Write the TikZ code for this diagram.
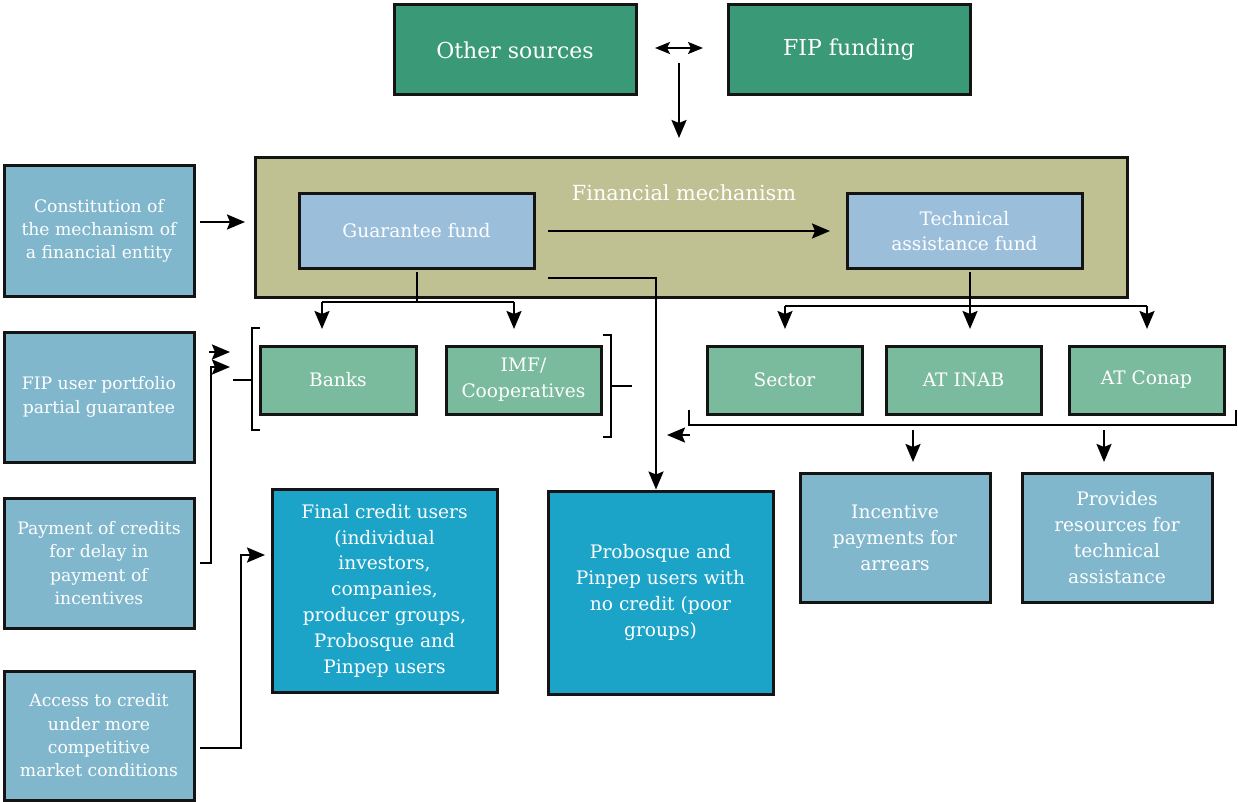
\documentclass[tikz,border=0pt]{standalone}
\usepackage{fontspec}
\setmainfont{DejaVu Serif}
\usetikzlibrary{arrows.meta}
\definecolor{srcgreen}{HTML}{3A9977}
\definecolor{midgreen}{HTML}{7BBB9D}
\definecolor{olive}{HTML}{C0C193}
\definecolor{fundblue}{HTML}{9BBEDB}
\definecolor{greyblue}{HTML}{80B7CC}
\definecolor{cyanbox}{HTML}{1CA3C8}
\definecolor{edge}{HTML}{141414}
% box with corners (x1,y1) and (x2,y2)
\newcommand\placebox[7]{%
  \node[box,#6,minimum width={(#4-#2)*1pt},minimum height={(#5-#3)*1pt}]
    (#1) at ({(#2+#4)/2},{(#3+#5)/2}) {#7};}
\begin{document}
\begin{tikzpicture}[x=1pt,y=-1pt,
  box/.style={draw=edge,line width=3pt,inner sep=0pt,text=white,align=center,
    font=\fontsize{17}{23.5}\selectfont},
  big/.style={font=\fontsize{22}{26}\selectfont},
  mid/.style={font=\fontsize{18.6}{25.8}\selectfont},
  small/.style={font=\fontsize{17.2}{23.3}\selectfont},
  conn/.style={line width=2.2pt,draw=black,-{Stealth[length=18pt,width=15pt,inset=3pt]}},
  twoway/.style={line width=2.2pt,draw=black,{Stealth[length=15pt,width=12pt,inset=3pt]}-{Stealth[length=15pt,width=12pt,inset=3pt]}},
  plain/.style={line width=2.2pt,draw=black}]
\useasboundingbox (0,0) rectangle (1238,802);

% sources
\placebox{other}{394}{5}{636}{95}{fill=srcgreen,big}{Other sources}
\placebox{fip}{728}{5}{970}{95}{fill=srcgreen,big}{FIP funding}

% financial mechanism
\placebox{fm}{255}{158}{1127}{297}{fill=olive}{}
\node[text=white,font=\fontsize{20.8}{24}\selectfont] (fmtitle) at (684,193) {Financial mechanism};
\placebox{gf}{299}{194}{534}{268}{fill=fundblue,mid}{Guarantee fund}
\placebox{taf}{847}{194}{1082}{268}{fill=fundblue,mid}{Technical\\assistance fund}

% intermediaries
\placebox{banks}{260}{346}{416}{414}{fill=midgreen,mid}{Banks}
\placebox{imf}{446}{346}{601}{414}{fill=midgreen,mid}{IMF/\\Cooperatives}
\placebox{sector}{707}{346}{862}{414}{fill=midgreen,mid}{Sector}
\placebox{inab}{886}{346}{1041}{414}{fill=midgreen,mid}{AT INAB}
\placebox{conap}{1069}{346}{1224}{414}{fill=midgreen,mid}{AT Conap}

% left column
\placebox{const}{4}{166}{194}{296}{fill=greyblue,small}{Constitution of\\the mechanism of\\a financial entity}
\placebox{portf}{4}{332}{194}{462}{fill=greyblue,small}{FIP user portfolio\\partial guarantee}
\placebox{delay}{4}{498}{194}{628}{fill=greyblue,small}{Payment of credits\\for delay in\\payment of\\incentives}
\placebox{access}{4}{671}{194}{800}{fill=greyblue,small}{Access to credit\\under more\\competitive\\market conditions}

% users and outcomes
\placebox{final}{272}{489}{497}{692}{fill=cyanbox,mid}{Final credit users\\(individual\\investors,\\companies,\\producer groups,\\Probosque and\\Pinpep users}
\placebox{poor}{548}{491}{773}{694}{fill=cyanbox,mid}{Probosque and\\Pinpep users with\\no credit (poor\\groups)}
\placebox{incent}{800}{473}{990}{602}{fill=greyblue,mid}{Incentive\\payments for\\arrears}
\placebox{resour}{1022}{473}{1212}{602}{fill=greyblue,mid}{Provides\\resources for\\technical\\assistance}

% free ends of connectors
\coordinate (dl) at (655,48);
\coordinate (dr) at (703,48);
\coordinate (dtop) at (679,63);
\coordinate (dbot) at (679,138);
\coordinate (cstart) at (200,222);
\coordinate (cend) at (245,222);
\coordinate (gfout) at (548,231);
\coordinate (tafin) at (830,231);
\coordinate (gfdown) at (417,272);
\coordinate (gfside) at (548,278);
\coordinate (tafdown) at (970,272);

% funding flows
\draw[twoway] (dl) -- (dr);
\draw[conn] (dtop) -- (dbot);
\draw[conn] (cstart) -- (cend);
\draw[conn] (gfout) -- (tafin);

% guarantee fund to banks and cooperatives
\draw[plain] (gfdown) -- (417,302);
\draw[plain] (322,302) -- (514,302);
\draw[conn] (322,302) -- (322,329);
\draw[conn] (514,302) -- (514,329);
% guarantee fund to users without credit
\draw[conn] (gfside) -- (656,278) -- (poor.north -| 656,0);

% technical assistance fund to the three recipients
\draw[conn] (tafdown) -- (970,329);
\draw[plain] (785,306) -- (1147,306);
\draw[conn] (785,306) -- (785,329);
\draw[conn] (1147,306) -- (1147,329);

% bracket around banks and cooperatives
\draw[plain] (260,328) -- (252,328) -- (252,430) -- (260,430);
\draw[plain] (233,380) -- (252,380);
\draw[plain] (603,335) -- (611,335) -- (611,437) -- (603,437);
\draw[plain] (611,386) -- (632,386);
\draw[conn] (209,352) -- (230,352);
\draw[conn] (200,563) -- (211,563) -- (211,367) -- (230,367);
\draw[conn] (200,748) -- (241,748) -- (241,555) -- (265,555);

% bracket under sector, INAB and Conap
\draw[plain] (689,410) -- (689,425) -- (1236,425) -- (1236,410);
\draw[conn] (690,435) -- (667,435);
\draw[conn] (913,430) -- (913,462);
\draw[conn] (1104,430) -- (1104,462);
\end{tikzpicture}
\end{document}
